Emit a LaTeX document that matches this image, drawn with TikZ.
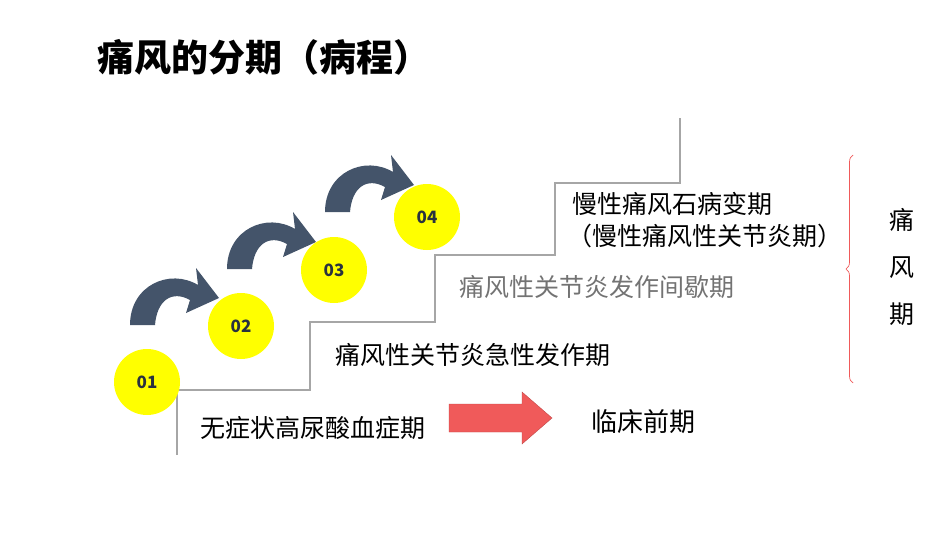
\documentclass[tikz,border=0pt]{standalone}
\usepackage{fontspec}
\setmainfont{Noto Sans CJK SC}
\usetikzlibrary{decorations.pathreplacing}
\definecolor{slate}{HTML}{44546A}
\definecolor{yel}{HTML}{FFFF00}
\definecolor{redf}{HTML}{F05A5A}
\begin{document}
\begin{tikzpicture}[x=1pt,y=-1pt,
  circ/.style={circle,fill=yel,minimum size=66pt,inner sep=0pt,font=\bfseries\fontsize{17}{17}\selectfont,text=slate!60!black},
  lbl/.style={font=\fontsize{25}{28}\selectfont,text=black},
  stair/.style={draw=gray!70,line width=2pt}]
\useasboundingbox (0,0) rectangle (950,535);
\node[font=\bfseries\fontsize{37}{40}\selectfont,anchor=west,inner sep=0pt] (title) at (97,57) {痛风的分期（病程）};
\draw[stair] (177,455) -- (177,390) -- (310,390) -- (310,322) -- (435,322) -- (435,255) -- (555,255) -- (555,183) -- (680,183) -- (680,118);
\foreach \dx/\dy in {0/0,97/-56,195/-113}{
  \fill[slate,shift={(\dx,\dy)}] (130,325) .. controls (130,285) and (170,268) .. (198,285) -- (196,268) -- (219,298) -- (186,313) -- (190,300) .. controls (172,290) and (157,300) .. (155,325) -- cycle;}
\node[circ] (c1) at (147,382) {01};
\node[circ] (c2) at (241,326) {02};
\node[circ] (c3) at (334,270) {03};
\node[circ] (c4) at (427,217) {04};
\node[lbl] (t1) at (313,428) {无症状高尿酸血症期};
\node[lbl] (t2) at (473,355) {痛风性关节炎急性发作期};
\node[lbl,text=gray!90!black] (t3) at (597,287) {痛风性关节炎发作间歇期};
\node[lbl] (t4) at (672,204) {慢性痛风石病变期};
\node[lbl] (t5) at (705,236) {（慢性痛风性关节炎期）};
\fill[redf,draw=redf!80!black] (449,404) -- (522,404) -- (522,392) -- (552,418) -- (522,444) -- (522,432) -- (449,432) -- cycle;
\node[font=\fontsize{26}{28}\selectfont] (pre) at (643,422) {临床前期};
\draw[redf,line width=0.7pt,decorate,decoration={brace,amplitude=7pt}] (853,383) -- (853,155);
\node[lbl] (v1) at (902,220) {痛};
\node[lbl] (v2) at (902,268) {风};
\node[lbl] (v3) at (902,314) {期};
\end{tikzpicture}
\end{document}
